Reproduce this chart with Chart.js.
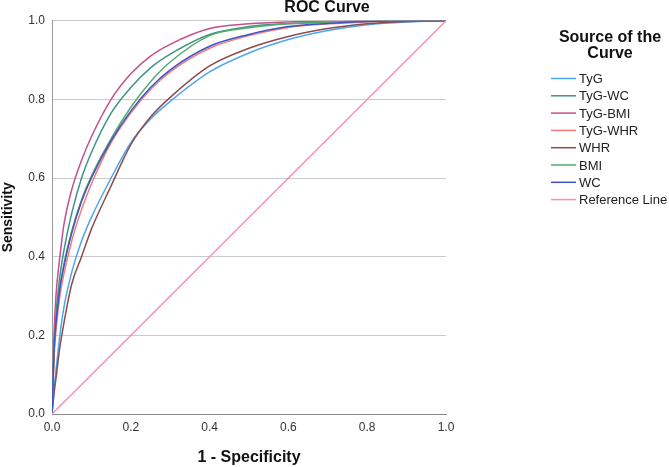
<!DOCTYPE html>
<html>
<head>
<meta charset="utf-8">
<title>ROC Curve</title>
<script src="https://cdn.jsdelivr.net/npm/chart.js@4.4.1/dist/chart.umd.min.js"></script>
<style>
  html, body { margin: 0; padding: 0; background: #fff; }
  #wrap { width: 669px; height: 467px; position: relative; }
</style>
</head>
<body>
<div id="wrap"><canvas id="rocChart"></canvas></div>
<script>
// 1 - Specificity (shared x values for every curve)
const fpr = [0, 0.005, 0.01, 0.02, 0.03, 0.05, 0.075, 0.1, 0.15, 0.2, 0.25, 0.3, 0.4, 0.5, 0.6, 0.7, 0.8, 0.9, 1];

// Sensitivity for each source of the curve
const tprTyG    = [0, 0.06, 0.11, 0.20, 0.27, 0.36, 0.44, 0.50, 0.60, 0.69, 0.75, 0.795, 0.87, 0.918, 0.952, 0.975, 0.99, 0.997, 1];
const tprTyGWC  = [0, 0.15, 0.25, 0.35, 0.415, 0.51, 0.60, 0.665, 0.765, 0.83, 0.88, 0.915, 0.965, 0.985, 0.993, 0.997, 0.999, 1, 1];
const tprTyGBMI = [0, 0.20, 0.30, 0.40, 0.48, 0.57, 0.645, 0.705, 0.80, 0.865, 0.91, 0.94, 0.98, 0.992, 0.997, 0.999, 1, 1, 1];
const tprTyGWHR = [0, 0.14, 0.21, 0.30, 0.355, 0.44, 0.52, 0.585, 0.69, 0.765, 0.825, 0.87, 0.93, 0.962, 0.983, 0.992, 0.997, 0.999, 1];
const tprWHR    = [0, 0.05, 0.09, 0.17, 0.23, 0.33, 0.40, 0.47, 0.58, 0.685, 0.755, 0.805, 0.885, 0.93, 0.96, 0.98, 0.992, 0.998, 1];
const tprBMI    = [0, 0.16, 0.23, 0.32, 0.38, 0.465, 0.545, 0.605, 0.70, 0.78, 0.845, 0.895, 0.962, 0.982, 0.992, 0.997, 0.999, 1, 1];
const tprWC     = [0, 0.16, 0.23, 0.32, 0.375, 0.46, 0.54, 0.60, 0.695, 0.77, 0.83, 0.875, 0.935, 0.965, 0.985, 0.993, 0.998, 1, 1];

// Reference line
const refX = [0, 1];
const refY = [0, 1];

const seriesNames = ["TyG", "TyG-WC", "TyG-BMI", "TyG-WHR", "WHR", "BMI", "WC", "Reference Line"];
const seriesColors = ["#4da6f0", "#3d9488", "#c4508c", "#f57a7a", "#8e4b4b", "#52ad6b", "#3d55c4", "#f590b4"];
const seriesTpr = [tprTyG, tprTyGWC, tprTyGBMI, tprTyGWHR, tprWHR, tprBMI, tprWC];

const FONT = "'Liberation Sans', Arial, sans-serif";

const toPoints = (xs, ys) => xs.map((x, i) => ({ x: x, y: ys[i] }));

const datasets = seriesNames.map((name, i) => {
  const pts = i < seriesTpr.length ? toPoints(fpr, seriesTpr[i]) : toPoints(refX, refY);
  return {
    label: name,
    data: pts,
    borderColor: seriesColors[i],
    backgroundColor: seriesColors[i],
    borderWidth: 1.5,
    pointRadius: 0,
    fill: false,
    cubicInterpolationMode: "monotone",
    order: seriesNames.length - i, // last series on top
  };
});

// title + legend drawn by hand so they sit like the original
const sideLegend = {
  id: "sideLegend",
  afterDraw(chart) {
    const ctx = chart.ctx;
    ctx.save();
    ctx.fillStyle = "#111";
    ctx.textAlign = "center";
    ctx.textBaseline = "middle";
    ctx.font = "bold 16px " + FONT;
    ctx.fillText("ROC Curve", 327, 8);
    ctx.fillText("Source of the", 610, 38);
    ctx.fillText("Curve", 610, 54);

    ctx.font = "13px " + FONT;
    ctx.textAlign = "left";
    chart.data.datasets.forEach((ds, i) => {
      const y = 78.5 + i * 17.3;
      ctx.strokeStyle = ds.borderColor;
      ctx.lineWidth = 1.5;
      ctx.beginPath();
      ctx.moveTo(551, y);
      ctx.lineTo(576, y);
      ctx.stroke();
      ctx.fillStyle = "#222";
      ctx.fillText(ds.label, 579, y + 1);
    });
    ctx.restore();
  },
};

const tickFont = { family: FONT, size: 12 };

new Chart(document.getElementById("rocChart"), {
  type: "line",
  data: { datasets: datasets },
  options: {
    responsive: true,
    maintainAspectRatio: false,
    animation: false,
    layout: { padding: { left: 0, right: 223, top: 20.7, bottom: 0 } },
    plugins: {
      legend: { display: false },
      tooltip: { enabled: false },
      title: { display: false },
    },
    scales: {
      x: {
        type: "linear",
        min: 0,
        max: 1,
        afterFit: (s) => { s.height = 53; },
        grid: { display: false, drawTicks: false },
        border: { display: true, color: "#8a8a8a", width: 1 },
        ticks: {
          stepSize: 0.2,
          padding: 6,
          color: "#333",
          font: tickFont,
          callback: (v) => v.toFixed(1),
        },
        title: {
          display: true,
          text: "1 - Specificity",
          color: "#111",
          font: { family: FONT, size: 16, weight: "bold" },
          padding: { top: 0, bottom: 0 },
        },
      },
      y: {
        type: "linear",
        min: 0,
        max: 1,
        afterFit: (s) => { s.width = 52; },
        grid: { color: "#cbcbcb", lineWidth: 1, drawTicks: false },
        border: { display: true, color: "#9a9a9a", width: 1 },
        ticks: {
          stepSize: 0.2,
          padding: 7,
          color: "#333",
          font: tickFont,
          callback: (v) => v.toFixed(1),
        },
        title: {
          display: true,
          text: "Sensitivity",
          color: "#111",
          font: { family: FONT, size: 14, weight: "bold" },
          padding: { top: 0, bottom: 0 },
        },
      },
    },
  },
  plugins: [sideLegend],
});
</script>
</body>
</html>
